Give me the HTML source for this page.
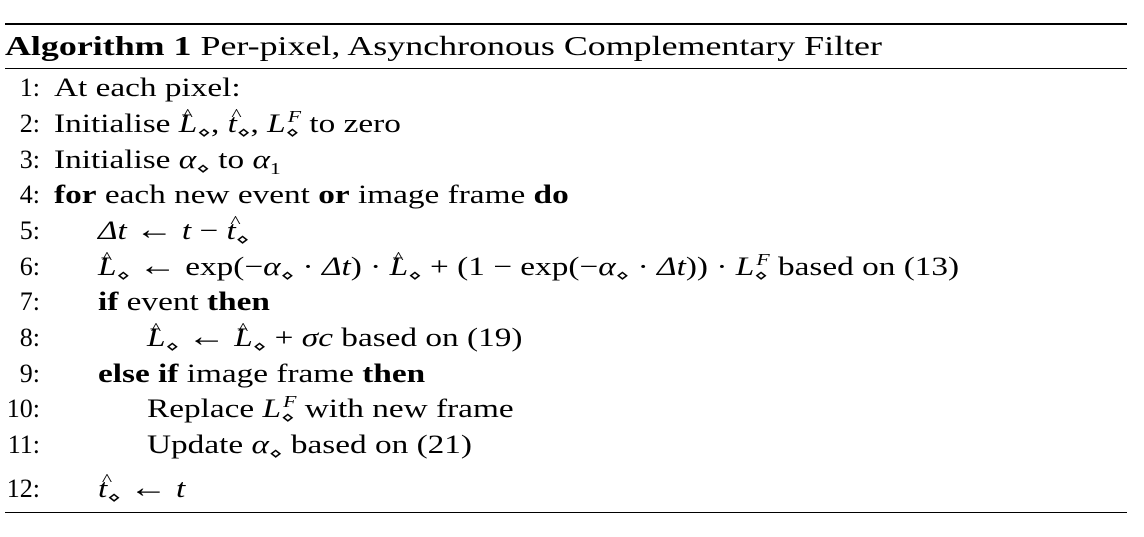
<!DOCTYPE html>
<html><head><meta charset="utf-8"><style>
body{margin:0;width:1144px;height:537px;background:#fff;position:relative;overflow:hidden;font-family:"Liberation Serif","DejaVu Serif",serif;color:#000}
.rule{position:absolute;left:5px;width:1122px;background:#000}
.ln{position:absolute;font-size:26px;line-height:26px;white-space:nowrap;transform:scaleX(1.28);transform-origin:0 0}
.num{position:absolute;font-size:26px;line-height:26px;width:40px;text-align:right;left:0}
i{font-style:italic}
sub,sup{font-size:17px;line-height:0}
.hat{position:relative;display:inline-block}
.hat::before{content:"^";position:absolute;left:3px;top:-9px;font-size:17px;font-style:normal}
.ar{font-size:30px;line-height:0}
</style></head><body>
<div class="rule" style="top:23px;height:2px"></div>
<div class="ln" style="left:5px;top:33px;font-size:27px;line-height:27px;transform:scaleX(1.33)"><b>Algorithm 1</b> Per-pixel, Asynchronous Complementary Filter</div>
<div class="rule" style="top:68px;height:1px"></div>

<div class="num" style="top:75px">1:</div>
<div class="ln" style="left:54px;top:75px">At each pixel:</div>

<div class="num" style="top:111px">2:</div>
<div class="ln" style="left:54px;top:111px">Initialise <i class="hat">L</i><sub>⋄</sub>, <i class="hat">t</i><sub>⋄</sub>, <i>L</i><sub>⋄</sub><sup style="margin-left:-9px"><i>F</i></sup> to zero</div>

<div class="num" style="top:147px">3:</div>
<div class="ln" style="left:54px;top:147px">Initialise <i>α</i><sub>⋄</sub> to <i>α</i><sub>1</sub></div>

<div class="num" style="top:182px">4:</div>
<div class="ln" style="left:54px;top:182px"><b>for</b> each new event <b>or</b> image frame <b>do</b></div>

<div class="num" style="top:218px">5:</div>
<div class="ln" style="left:98px;top:218px"><i>Δt</i> <span class="ar">←</span> <i>t</i> − <i class="hat">t</i><sub>⋄</sub></div>

<div class="num" style="top:254px">6:</div>
<div class="ln" style="left:98px;top:254px"><i class="hat">L</i><sub>⋄</sub> <span class="ar">←</span> exp(−<i>α</i><sub>⋄</sub> · <i>Δt</i>) · <i class="hat">L</i><sub>⋄</sub> + (1 − exp(−<i>α</i><sub>⋄</sub> · <i>Δt</i>)) · <i>L</i><sub>⋄</sub><sup style="margin-left:-9px"><i>F</i></sup> based on (13)</div>

<div class="num" style="top:289px">7:</div>
<div class="ln" style="left:98px;top:289px"><b>if</b> event <b>then</b></div>

<div class="num" style="top:325px">8:</div>
<div class="ln" style="left:147px;top:325px"><i class="hat">L</i><sub>⋄</sub> <span class="ar">←</span> <i class="hat">L</i><sub>⋄</sub> + <i>σc</i> based on (19)</div>

<div class="num" style="top:361px">9:</div>
<div class="ln" style="left:98px;top:361px"><b>else if</b> image frame <b>then</b></div>

<div class="num" style="top:396px">10:</div>
<div class="ln" style="left:147px;top:396px">Replace <i>L</i><sub>⋄</sub><sup style="margin-left:-9px"><i>F</i></sup> with new frame</div>

<div class="num" style="top:432px">11:</div>
<div class="ln" style="left:147px;top:432px">Update <i>α</i><sub>⋄</sub> based on (21)</div>

<div class="num" style="top:476px">12:</div>
<div class="ln" style="left:98px;top:476px"><i class="hat">t</i><sub>⋄</sub> <span class="ar">←</span> <i>t</i></div>

<div class="rule" style="top:512px;height:1px"></div>
</body></html>
